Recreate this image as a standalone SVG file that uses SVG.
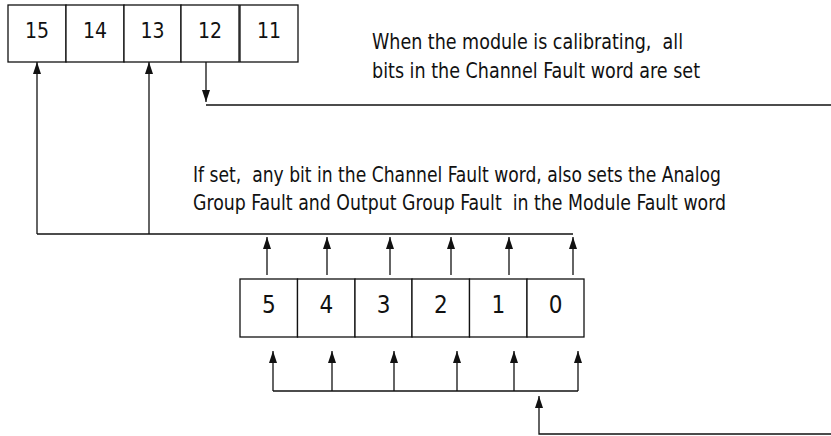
<svg xmlns="http://www.w3.org/2000/svg" width="831" height="436" viewBox="0 0 831 436">
<style>
.box{fill:#fff;stroke:#111;stroke-width:1.3}
.ln{fill:none;stroke:#111;stroke-width:1.3}
.d{font-family:"Liberation Sans Narrow","DejaVu Sans Condensed","Liberation Sans",sans-serif;fill:#111;text-anchor:middle}
.t{font-family:"Liberation Sans Narrow","DejaVu Sans Condensed","Liberation Sans",sans-serif;font-size:22px;fill:#111;white-space:pre}
</style>
<defs>
<marker id="ah" markerUnits="userSpaceOnUse" markerWidth="13" markerHeight="9" refX="12" refY="4" orient="auto">
<path d="M0,0 L12,4 L0,8 Z" fill="#111"/>
</marker>
</defs>
<g id="top-word">
<g id="bit15"><rect class="box" x="8" y="5" width="58" height="57"/><text class="d" x="37" y="38" font-size="21">15</text></g>
<g id="bit14"><rect class="box" x="66" y="5" width="58" height="57"/><text class="d" x="95" y="38" font-size="21">14</text></g>
<g id="bit13"><rect class="box" x="124" y="5" width="57" height="57"/><text class="d" x="152.5" y="38" font-size="21">13</text></g>
<g id="bit12"><rect class="box" x="181" y="5" width="58" height="57"/><text class="d" x="210" y="38" font-size="21">12</text></g>
<g id="bit11"><rect class="box" x="240" y="5" width="58" height="57"/><text class="d" x="269" y="38" font-size="21">11</text></g>
</g>
<g id="channel-word">
<g id="ch5"><rect class="box" x="240" y="279" width="57.5" height="58"/><text class="d" x="268.75" y="313" font-size="24">5</text></g>
<g id="ch4"><rect class="box" x="297.5" y="279" width="57.5" height="58"/><text class="d" x="326.25" y="313" font-size="24">4</text></g>
<g id="ch3"><rect class="box" x="355" y="279" width="57" height="58"/><text class="d" x="383.5" y="313" font-size="24">3</text></g>
<g id="ch2"><rect class="box" x="412" y="279" width="57.5" height="58"/><text class="d" x="440.75" y="313" font-size="24">2</text></g>
<g id="ch1"><rect class="box" x="469.5" y="279" width="57.5" height="58"/><text class="d" x="498.25" y="313" font-size="24">1</text></g>
<g id="ch0"><rect class="box" x="527" y="279" width="57" height="58"/><text class="d" x="555.5" y="313" font-size="24">0</text></g>
</g>
<g id="connectors">
<polyline class="ln" points="206,105 831,105"/>
<line class="ln" x1="206" y1="62" x2="206" y2="102" marker-end="url(#ah)"/>
<line class="ln" x1="37" y1="234" x2="573" y2="234"/>
<line class="ln" x1="37" y1="234" x2="37" y2="62" marker-end="url(#ah)"/>
<line class="ln" x1="149" y1="234" x2="149" y2="62" marker-end="url(#ah)"/>
<line class="ln" x1="267" y1="275" x2="267" y2="237" marker-end="url(#ah)"/>
<line class="ln" x1="327" y1="275" x2="327" y2="237" marker-end="url(#ah)"/>
<line class="ln" x1="390" y1="275" x2="390" y2="237" marker-end="url(#ah)"/>
<line class="ln" x1="451" y1="275" x2="451" y2="237" marker-end="url(#ah)"/>
<line class="ln" x1="509" y1="275" x2="509" y2="237" marker-end="url(#ah)"/>
<line class="ln" x1="573" y1="275" x2="573" y2="237" marker-end="url(#ah)"/>
<line class="ln" x1="273" y1="391" x2="578" y2="391"/>
<line class="ln" x1="273" y1="391" x2="273" y2="351" marker-end="url(#ah)"/>
<line class="ln" x1="332" y1="391" x2="332" y2="351" marker-end="url(#ah)"/>
<line class="ln" x1="394" y1="391" x2="394" y2="351" marker-end="url(#ah)"/>
<line class="ln" x1="457" y1="391" x2="457" y2="351" marker-end="url(#ah)"/>
<line class="ln" x1="514" y1="391" x2="514" y2="351" marker-end="url(#ah)"/>
<line class="ln" x1="578" y1="391" x2="578" y2="351" marker-end="url(#ah)"/>
<polyline class="ln" points="831,434 539,434 539,396" marker-end="url(#ah)"/>
</g>
<g id="labels">
<text class="t" x="372" y="49" textLength="311" lengthAdjust="spacingAndGlyphs">When the module is calibrating,  all</text>
<text class="t" x="372" y="78" textLength="328" lengthAdjust="spacingAndGlyphs">bits in the Channel Fault word are set</text>
<text class="t" x="193" y="182" textLength="528" lengthAdjust="spacingAndGlyphs">If set,  any bit in the Channel Fault word, also sets the Analog</text>
<text class="t" x="193" y="210" textLength="533" lengthAdjust="spacingAndGlyphs">Group Fault and Output Group Fault  in the Module Fault word</text>
</g>
</svg>
